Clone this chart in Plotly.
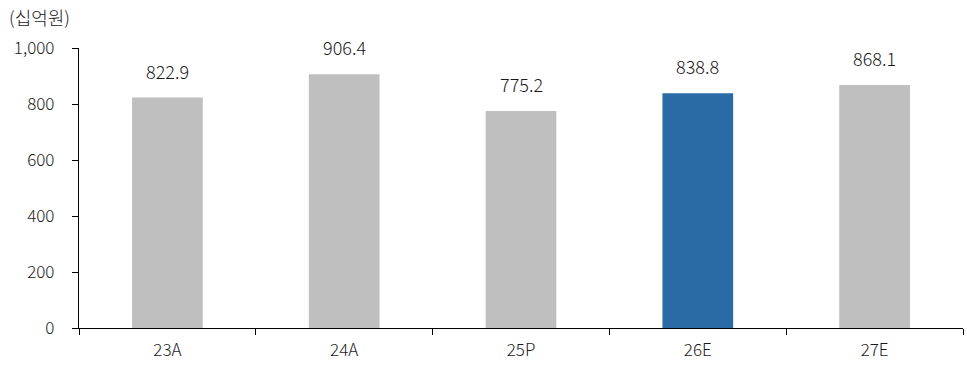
import plotly.graph_objects as go

categories = ["23A", "24A", "25P", "26E", "27E"]
values = [822.9, 906.4, 775.2, 838.8, 868.1]
colors = ["#BFBFBF", "#BFBFBF", "#BFBFBF", "#2B6BA5", "#BFBFBF"]
value_labels = ["822.9", "906.4", "775.2", "838.8", "868.1"]
unit_label = "(십억원)"
y_ticks = [0, 200, 400, 600, 800, 1000]
y_tick_text = ["0", "200", "400", "600", "800", "1,000"]

FONT = "Noto Sans CJK KR"
TXT = "#1a1a1a"

fig = go.Figure()
fig.add_trace(go.Bar(x=categories, y=values, marker=dict(color=colors, line=dict(width=0)),
                     hoverinfo="skip"))

for c, v, t in zip(categories, values, value_labels):
    fig.add_annotation(x=c, y=v, text=t, showarrow=False, yanchor="bottom", yshift=12,
                       font=dict(family=FONT, size=18, color=TXT, weight=300))

fig.add_annotation(xref="paper", yref="paper", x=-0.081, y=1.0, yshift=16, xanchor="left",
                   yanchor="bottom", text=unit_label, showarrow=False,
                   font=dict(family=FONT, size=18, color=TXT, weight=300))

fig.update_layout(
    width=967, height=369,
    margin=dict(l=79, r=4, t=48, b=41),
    paper_bgcolor="white", plot_bgcolor="white",
    bargap=0.6, showlegend=False,
    font=dict(family=FONT, size=17, color=TXT, weight=300),
)
fig.update_xaxes(type="category", range=[-0.5, 4.5], showline=True, linecolor="black", linewidth=1.3,
                 ticks="outside", tickson="boundaries", ticklen=6, tickcolor="black", tickwidth=1.3,
                 showgrid=False, ticklabelstandoff=6,
                 tickfont=dict(family=FONT, size=17, color=TXT, weight=300))
fig.update_yaxes(range=[0, 1000], tickvals=y_ticks, ticktext=y_tick_text, showline=True,
                 linecolor="black", linewidth=1.3, ticks="outside", ticklen=6, tickcolor="black",
                 tickwidth=1.3, showgrid=False, zeroline=False, ticklabelstandoff=14,
                 tickfont=dict(family=FONT, size=17, color=TXT, weight=300))

fig.write_html("out.html")
